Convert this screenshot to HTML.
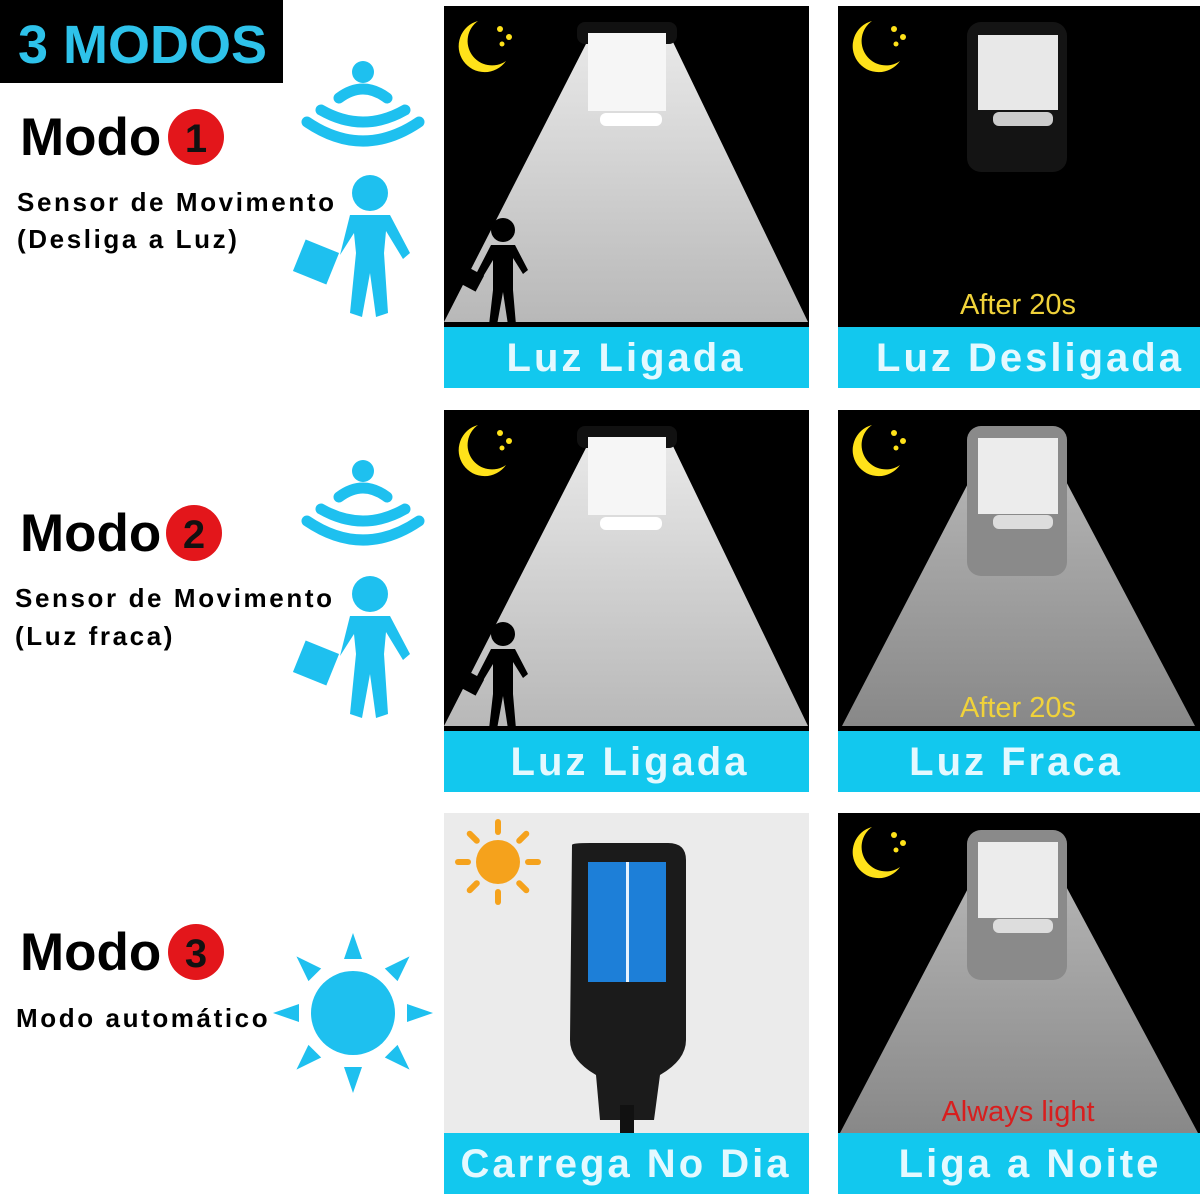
<!DOCTYPE html>
<html><head><meta charset="utf-8"><style>
html,body{margin:0;padding:0;background:#fff;width:1200px;height:1194px;overflow:hidden}
svg{display:block}
.cap{font-family:"Liberation Sans",sans-serif;font-weight:bold;font-size:40px;fill:#e4f9ff;letter-spacing:3px;text-anchor:middle}
.modo{font-family:"Liberation Sans",sans-serif;font-weight:bold;font-size:53px;fill:#000}
.sub{font-family:"Liberation Sans",sans-serif;font-weight:bold;font-size:26px;fill:#000;letter-spacing:2.6px}
.num{font-family:"Liberation Sans",sans-serif;font-weight:bold;font-size:40px;fill:#111;text-anchor:middle}
</style></head><body>
<svg width="1200" height="1194" viewBox="0 0 1200 1194" xmlns="http://www.w3.org/2000/svg">
<defs>
<linearGradient id="cone" x1="0" y1="0" x2="0" y2="1"><stop offset="0" stop-color="#e8e8e8"/><stop offset="1" stop-color="#b8b8b8"/></linearGradient>
<linearGradient id="cdim" x1="0" y1="0" x2="0" y2="1"><stop offset="0" stop-color="#b4b4b4"/><stop offset="1" stop-color="#888"/></linearGradient>
<g id="moon"><path d="M0 -26 A26 26 0 1 0 28 14 A22 22 0 0 1 0 -26 Z" fill="#ffe21a"/><circle cx="22" cy="-18" r="3" fill="#ffe21a"/><circle cx="31" cy="-10" r="3" fill="#ffe21a"/><circle cx="24" cy="-3" r="2.5" fill="#ffe21a"/></g>
<g id="walker" fill="#1ec0ef">
<circle cx="0" cy="0" r="18"/>
<path d="M-20 22 L20 22 L40 60 L33 66 L16 38 L14 60 L18 120 L6 124 L0 80 L-8 124 L-20 120 L-14 60 L-16 40 L-30 62 Z"/>
<rect x="-72" y="52" width="36" height="34" transform="rotate(22 -54 69)"/>
</g>
<g id="sensor" fill="none" stroke="#1ec0ef" stroke-width="11" stroke-linecap="round">
<circle cx="0" cy="0" r="11" fill="#1ec0ef" stroke="none"/>
<path d="M-24 26 Q0 8 24 26"/>
<path d="M-42 38 Q0 62 42 38"/>
<path d="M-56 50 Q0 88 56 50"/>
</g>
<g id="person">
<circle cx="0" cy="-70" r="12"/>
<path d="M-12 -55 L12 -55 L25 -30 L20 -26 L10 -42 L10 -10 L13 25 L5 25 L0 -8 L-6 25 L-14 25 L-10 -10 L-10 -40 L-22 -20 L-28 -24 Z"/>
<rect x="-42" y="-30" width="20" height="18" transform="rotate(28 -32 -21)"/>
</g>
</defs>

<rect x="0" y="0" width="283" height="83" fill="#000"/>
<text x="18" y="63" font-family="Liberation Sans,sans-serif" font-weight="bold" font-size="54" fill="#2ec2ea">3 MODOS</text>

<text class="modo" x="20" y="155">Modo</text>
<circle cx="196" cy="137" r="28" fill="#e3161b"/><text class="num" x="196" y="152">1</text>
<text class="sub" x="17" y="211">Sensor de Movimento</text>
<text class="sub" x="17" y="248">(Desliga a Luz)</text>
<use href="#sensor" x="363" y="72"/>
<use href="#walker" x="370" y="193"/>

<text class="modo" x="20" y="551">Modo</text>
<circle cx="194" cy="533" r="28" fill="#e3161b"/><text class="num" x="194" y="548">2</text>
<text class="sub" x="15" y="607">Sensor de Movimento</text>
<text class="sub" x="15" y="645">(Luz fraca)</text>
<use href="#sensor" x="363" y="471"/>
<use href="#walker" x="370" y="594"/>

<text class="modo" x="20" y="970">Modo</text>
<circle cx="196" cy="952" r="28" fill="#e3161b"/><text class="num" x="196" y="967">3</text>
<text class="sub" x="16" y="1027">Modo automático</text>
<g transform="translate(353 1013)" fill="#1ec0ef">
<circle r="42"/>
<g id="rays"><polygon points="-9,-54 9,-54 0,-80"/><polygon points="-9,54 9,54 0,80"/><polygon points="-54,-9 -54,9 -80,0"/><polygon points="54,-9 54,9 80,0"/></g>
<use href="#rays" transform="rotate(45)"/>
</g>

<rect x="444" y="6" width="365" height="321" fill="#000"/>
<polygon points="588,40 672,40 808,322 444,322" fill="url(#cone)"/>
<rect x="577" y="22" width="100" height="22" rx="8" fill="#111"/>
<rect x="588" y="33" width="78" height="78" fill="#f6f6f6"/>
<rect x="600" y="113" width="62" height="13" rx="6" fill="#fff"/>
<use href="#moon" x="478" y="47"/>
<g fill="#000" transform="translate(503 300)"><use href="#person"/></g>
<rect x="444" y="327" width="365" height="61" fill="#12c8ee"/>
<text class="cap" x="626" y="371">Luz Ligada</text>

<rect x="838" y="6" width="362" height="321" fill="#000"/>
<rect x="967" y="22" width="100" height="150" rx="14" fill="#141414"/>
<rect x="978" y="35" width="80" height="75" fill="#e8e8e8"/>
<rect x="993" y="112" width="60" height="14" rx="6" fill="#ccc"/>
<use href="#moon" x="872" y="47"/>
<text x="1018" y="314" font-family="Liberation Sans,sans-serif" font-size="29" fill="#f0d23a" text-anchor="middle">After 20s</text>
<rect x="838" y="327" width="362" height="61" fill="#12c8ee"/>
<text class="cap" x="1030" y="371">Luz Desligada</text>

<rect x="444" y="410" width="365" height="321" fill="#000"/>
<polygon points="588,444 672,444 808,726 444,726" fill="url(#cone)"/>
<rect x="577" y="426" width="100" height="22" rx="8" fill="#111"/>
<rect x="588" y="437" width="78" height="78" fill="#f6f6f6"/>
<rect x="600" y="517" width="62" height="13" rx="6" fill="#fff"/>
<use href="#moon" x="478" y="451"/>
<g fill="#000" transform="translate(503 704)"><use href="#person"/></g>
<rect x="444" y="731" width="365" height="61" fill="#12c8ee"/>
<text class="cap" x="630" y="775">Luz Ligada</text>

<rect x="838" y="410" width="362" height="321" fill="#000"/>
<polygon points="975,470 1060,470 1195,726 842,726" fill="url(#cdim)"/>
<rect x="967" y="426" width="100" height="150" rx="14" fill="#8a8a8a"/>
<rect x="978" y="438" width="80" height="76" fill="#ececec"/>
<rect x="993" y="515" width="60" height="14" rx="6" fill="#ddd"/>
<use href="#moon" x="872" y="451"/>
<text x="1018" y="717" font-family="Liberation Sans,sans-serif" font-size="29" fill="#f0d23a" text-anchor="middle">After 20s</text>
<rect x="838" y="731" width="362" height="61" fill="#12c8ee"/>
<text class="cap" x="1016" y="775">Luz Fraca</text>

<rect x="444" y="813" width="365" height="320" fill="#ebebeb"/>
<g transform="translate(498 862)" fill="#f5a21c">
<circle r="22"/>
<g id="srays" stroke="#f5a21c" stroke-width="6" stroke-linecap="round"><line x1="0" y1="-30" x2="0" y2="-40"/><line x1="0" y1="30" x2="0" y2="40"/><line x1="-30" y1="0" x2="-40" y2="0"/><line x1="30" y1="0" x2="40" y2="0"/></g>
<use href="#srays" transform="rotate(45)"/>
</g>
<path d="M572 845 Q572 843 590 843 L668 843 Q686 843 686 860 L686 1040 Q686 1060 660 1075 L654 1120 L600 1120 L596 1075 Q570 1060 570 1040 Z" fill="#1b1b1b"/>
<rect x="588" y="862" width="78" height="120" fill="#1d7fd8"/>
<rect x="626" y="862" width="3" height="120" fill="#e6f3ff"/>
<rect x="620" y="1105" width="14" height="28" fill="#111"/>
<rect x="444" y="1133" width="365" height="61" fill="#12c8ee"/>
<text class="cap" x="626" y="1177">Carrega No Dia</text>

<rect x="838" y="813" width="362" height="320" fill="#000"/>
<polygon points="975,875 1060,875 1198,1133 840,1133" fill="url(#cdim)"/>
<rect x="967" y="830" width="100" height="150" rx="14" fill="#8a8a8a"/>
<rect x="978" y="842" width="80" height="76" fill="#ececec"/>
<rect x="993" y="919" width="60" height="14" rx="6" fill="#ddd"/>
<use href="#moon" x="872" y="853"/>
<text x="1018" y="1121" font-family="Liberation Sans,sans-serif" font-size="29" fill="#d81e1e" text-anchor="middle">Always light</text>
<rect x="838" y="1133" width="362" height="61" fill="#12c8ee"/>
<text class="cap" x="1030" y="1177">Liga a Noite</text>
</svg>
</body></html>
